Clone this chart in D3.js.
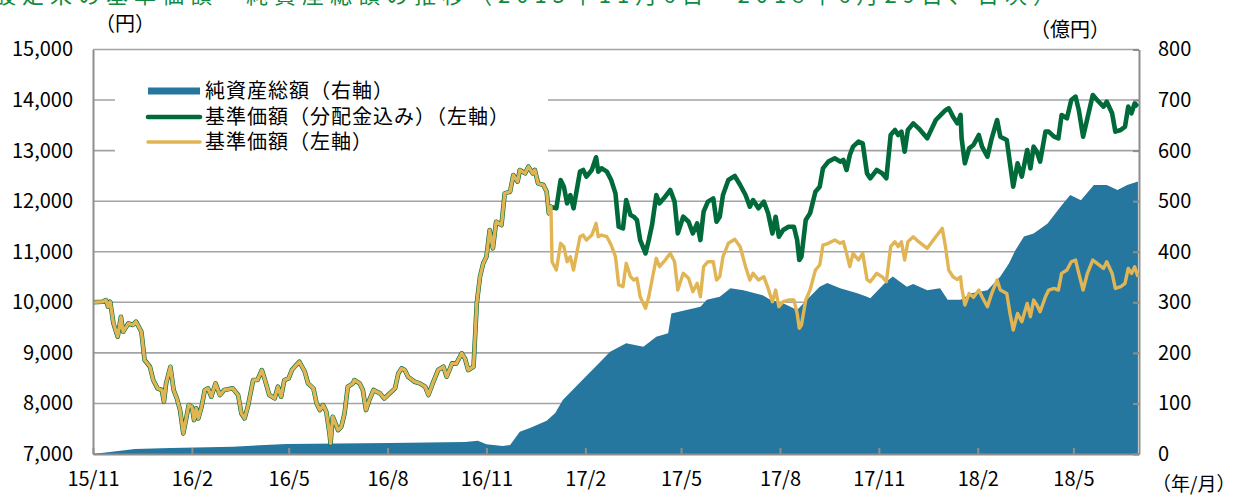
<!DOCTYPE html>
<html>
<head>
<meta charset="utf-8">
<script src="https://cdn.jsdelivr.net/npm/d3@7"></script>
<style>
  body { margin: 0; background: #fff; }
  text { font-family: "Noto Sans CJK JP", "Noto Sans", sans-serif; }
</style>
</head>
<body>
<svg id="fund-chart" width="1246" height="495"></svg>
<script>
// 基準価額: same for both lines until the first distribution
const sharedDates = [
  "2015-11-01","2015-11-10","2015-11-13","2015-11-15","2015-11-17","2015-11-20","2015-11-24","2015-11-27","2015-11-29",
  "2015-12-04","2015-12-08","2015-12-11","2015-12-16","2015-12-19","2015-12-24","2015-12-27","2015-12-31",
  "2016-01-04","2016-01-06","2016-01-08","2016-01-12","2016-01-15","2016-01-18","2016-01-21","2016-01-24","2016-01-27","2016-01-29",
  "2016-02-01","2016-02-03","2016-02-05","2016-02-07","2016-02-10","2016-02-13","2016-02-16","2016-02-19","2016-02-23","2016-02-27",
  "2016-03-02","2016-03-10","2016-03-15","2016-03-18","2016-03-21","2016-03-24","2016-03-29",
  "2016-04-02","2016-04-06","2016-04-09","2016-04-13","2016-04-18","2016-04-21","2016-04-24","2016-04-27",
  "2016-05-01","2016-05-04","2016-05-08","2016-05-11","2016-05-16","2016-05-19","2016-05-24","2016-05-27","2016-05-30",
  "2016-06-02","2016-06-05","2016-06-08","2016-06-09","2016-06-11","2016-06-16","2016-06-19","2016-06-22","2016-06-25","2016-06-30",
  "2016-07-01","2016-07-06","2016-07-09","2016-07-12","2016-07-15","2016-07-19","2016-07-25","2016-07-29",
  "2016-08-03","2016-08-08","2016-08-11","2016-08-14","2016-08-17","2016-08-20","2016-08-26","2016-08-31",
  "2016-09-05","2016-09-08","2016-09-12","2016-09-17","2016-09-22","2016-09-25","2016-09-30",
  "2016-10-04","2016-10-09","2016-10-12","2016-10-15","2016-10-20","2016-10-23","2016-10-26","2016-10-29",
  "2016-11-01","2016-11-04","2016-11-07","2016-11-10","2016-11-15","2016-11-18","2016-11-23","2016-11-26","2016-11-30",
  "2016-12-02","2016-12-07","2016-12-10","2016-12-14","2016-12-16","2016-12-19","2016-12-24","2016-12-27","2016-12-29","2016-12-31"
];
const sharedNav = [
  10000,10011,10045,9913,10011,9584,9319,9715,9418,
  9584,9551,9617,9418,8858,8726,8463,8299,
  8266,8034,8397,8726,8266,8100,7869,7408,7737,7968,
  7935,7671,7903,7704,7935,8266,8299,8133,8397,8166,
  8266,8299,8166,7803,7704,7935,8463,
  8463,8660,8463,8166,8100,8331,8133,8463,
  8496,8660,8759,8825,8627,8397,8299,8001,7869,
  7968,7836,7408,7210,7737,7474,7540,7803,8331,8397,
  8463,8397,8266,7869,8067,8266,8199,8100,
  8199,8299,8594,8693,8660,8528,8430,8397,
  8331,8166,8397,8660,8726,8528,8792,
  8792,8990,8891,8660,8726,9980,10506,10771,
  10902,11430,11068,11594,11528,12155,12188,12518,12386,
  12617,12551,12683,12551,12617,12353,12320,12188,11760,11892
];

// after the first distribution the two lines separate
const laterDates = [
  "2017-01-01","2017-01-05","2017-01-09","2017-01-12","2017-01-15","2017-01-18","2017-01-21","2017-01-24","2017-01-27","2017-01-30",
  "2017-02-02","2017-02-07","2017-02-11","2017-02-13","2017-02-16","2017-02-21","2017-02-25",
  "2017-03-01","2017-03-04","2017-03-08","2017-03-11","2017-03-15","2017-03-18","2017-03-21","2017-03-24","2017-03-29",
  "2017-04-01","2017-04-04","2017-04-08","2017-04-11","2017-04-15","2017-04-21","2017-04-25","2017-04-28",
  "2017-05-03","2017-05-08","2017-05-12","2017-05-16","2017-05-19","2017-05-22","2017-05-26","2017-05-31",
  "2017-06-03","2017-06-06","2017-06-09","2017-06-14","2017-06-20","2017-06-25","2017-06-30",
  "2017-07-04","2017-07-07","2017-07-12","2017-07-17","2017-07-21","2017-07-25","2017-07-28","2017-07-31",
  "2017-08-04","2017-08-09","2017-08-14","2017-08-17","2017-08-19","2017-08-21","2017-08-25","2017-08-29",
  "2017-09-03","2017-09-07","2017-09-10","2017-09-15","2017-09-21","2017-09-26","2017-09-29",
  "2017-10-02","2017-10-05","2017-10-08","2017-10-13","2017-10-17","2017-10-21","2017-10-24","2017-10-30",
  "2017-11-04","2017-11-08","2017-11-12","2017-11-16","2017-11-19","2017-11-22","2017-11-25","2017-11-28",
  "2017-12-03","2017-12-08","2017-12-16","2017-12-24","2017-12-30",
  "2018-01-02","2018-01-05","2018-01-09","2018-01-13","2018-01-16","2018-01-17","2018-01-20","2018-01-24","2018-01-28",
  "2018-02-02","2018-02-05","2018-02-10","2018-02-14","2018-02-19","2018-02-22","2018-02-28",
  "2018-03-03","2018-03-06","2018-03-10","2018-03-14","2018-03-19","2018-03-22","2018-03-25","2018-03-28","2018-03-31",
  "2018-04-05","2018-04-08","2018-04-13","2018-04-17","2018-04-20","2018-04-25","2018-04-29",
  "2018-05-03","2018-05-06","2018-05-10","2018-05-14","2018-05-19","2018-05-23","2018-05-29",
  "2018-06-01","2018-06-06","2018-06-09","2018-06-14","2018-06-18","2018-06-21","2018-06-24","2018-06-27","2018-06-30"
];
const laterNav = [
  10803,10639,11167,11100,10803,10902,10639,10968,11297,11330,
  11231,11330,11562,11297,11330,11297,11133,
  10902,10342,10309,10771,10507,10441,10474,10111,9881,
  10111,10441,10870,10705,10803,10968,10803,10243,
  10573,10474,10210,10375,10111,10705,10803,10803,
  10441,10507,10902,11167,11246,11100,10705,
  10441,10573,10441,10507,10276,10012,10243,9913,
  10012,10045,10045,9782,9485,9551,10045,10243,
  10639,10738,11133,11167,11232,11167,11200,
  10968,10705,10968,10837,10968,10450,10407,10572,
  10506,10407,11100,11199,11100,11199,10836,11199,
  11298,11199,11067,11298,11463,
  11100,10638,10506,10450,10506,10300,9946,10176,10100,
  10242,10110,9913,10176,10440,10242,10176,
  9781,9452,9781,9616,9979,9715,10044,9946,9814,
  10110,10242,10275,10242,10572,10638,10803,
  10836,10572,10242,10572,10836,10770,10671,
  10803,10572,10275,10308,10374,10671,10572,10704,10506
];
const laterNavWithDiv = [
  11880,11859,12419,12287,11958,12122,11859,12221,12584,12617,
  12485,12617,12868,12584,12650,12584,12419,
  12155,11495,11462,12023,11726,11693,11627,11231,10969,
  11231,11528,12122,11958,12056,12221,11991,11363,
  11693,11594,11363,11561,11231,11792,11991,12056,
  11594,11693,12122,12419,12498,12320,12122,
  11892,12023,11859,11991,11760,11363,11693,11297,
  11429,11495,11495,11231,10837,10902,11627,11760,
  12188,12287,12650,12782,12848,12782,12815,
  12617,12914,13078,13177,13144,12550,12452,12617,
  12551,12452,13309,13408,13309,13375,12979,13408,
  13540,13441,13243,13606,13738,
  13800,13837,13672,13540,13705,13243,12749,13045,13111,
  13309,13078,12881,13243,13606,13276,13210,
  12749,12287,12749,12485,13012,12650,13078,12979,12782,
  13375,13375,13276,13243,13705,13639,14001,
  14067,13804,13276,13639,14100,14001,13870,
  13969,13738,13375,13408,13474,13870,13738,13936,13870
];

// 純資産総額 (億円)
const assetDates = [
  "2015-11-01","2015-12-10","2016-01-12","2016-03-10","2016-04-29","2016-08-02","2016-10-12","2016-10-24",
  "2016-11-01","2016-11-16","2016-11-23","2016-12-02","2016-12-12","2016-12-27","2017-01-04","2017-01-11",
  "2017-01-29","2017-02-12","2017-02-24","2017-03-11","2017-03-27","2017-04-08","2017-04-19","2017-04-22",
  "2017-05-06","2017-05-19","2017-05-25","2017-06-06","2017-06-16","2017-06-28","2017-07-16","2017-07-23",
  "2017-08-04","2017-08-17","2017-08-26","2017-09-07","2017-09-14","2017-09-26","2017-10-12","2017-10-21",
  "2017-10-24","2017-11-08","2017-11-14","2017-11-27","2017-12-03","2017-12-16","2017-12-28","2018-01-04",
  "2018-01-16","2018-01-26","2018-02-10","2018-02-22","2018-03-02","2018-03-08","2018-03-16","2018-03-25",
  "2018-04-07","2018-04-19","2018-04-28","2018-05-08","2018-05-20","2018-06-01","2018-06-11","2018-06-20","2018-06-30"
];
const assetValues = [
  0,10,12,14.5,20,22,23.7,26,
  19.5,16,18,44,52,66,81,107,
  146,176,202,219,212,232,239,278,
  285,291,305,311,328,324,314,305,
  298,285,305,331,338,328,318,311,
  308,341,351,331,336,324,328,305,
  305,318,324,351,377,403,430,436,
  456,489,512,502,532,532,522,532,539
];

const leftTicks = [7000, 8000, 9000, 10000, 11000, 12000, 13000, 14000, 15000];
const rightTicks = [0, 100, 200, 300, 400, 500, 600, 700, 800];
const xTickDates = ["2015-11-01","2016-02-01","2016-05-01","2016-08-01","2016-11-01","2017-02-01",
  "2017-05-01","2017-08-01","2017-11-01","2018-02-01","2018-05-01"];
const xTickLabels = ["15/11","16/2","16/5","16/8","16/11","17/2","17/5","17/8","17/11","18/2","18/5"];

const legendLabels = ["純資産総額（右軸）", "基準価額（分配金込み）（左軸）", "基準価額（左軸）"];

const colors = { asset: "#26779f", withDiv: "#006a3a", nav: "#e1b554", grid: "#a3a3a3", axis: "#8e8e8e" };

const margin = { top: 49.5, right: 107, bottom: 41, left: 93 };
const svg = d3.select("#fund-chart");
const width = +svg.attr("width") - margin.left - margin.right;
const height = +svg.attr("height") - margin.top - margin.bottom;
const parseDate = d3.timeParse("%Y-%m-%d");

const xScale = d3.scaleTime()
  .domain([parseDate("2015-11-01"), parseDate("2018-07-01")])
  .range([0, width]);
const yLeft = d3.scaleLinear().domain([7000, 15000]).range([height, 0]);
const yRight = d3.scaleLinear().domain([0, 800]).range([height, 0]);

const navSeries = sharedDates.map((d, i) => ({ date: parseDate(d), value: sharedNav[i] }))
  .concat(laterDates.map((d, i) => ({ date: parseDate(d), value: laterNav[i] })));
const withDivSeries = sharedDates.map((d, i) => ({ date: parseDate(d), value: sharedNav[i] }))
  .concat(laterDates.map((d, i) => ({ date: parseDate(d), value: laterNavWithDiv[i] })));
const assetSeries = assetDates.map((d, i) => ({ date: parseDate(d), value: assetValues[i] }));

// title, mostly cut off by the top edge
svg.append("text")
  .attr("x", -6)
  .attr("y", 3)
  .attr("font-size", 22)
  .attr("letter-spacing", 6)
  .attr("fill", "#108a40")
  .text("設定来の基準価額・純資産総額の推移（2015年11月6日～2018年6月29日、日次）");

svg.append("text").attr("x", 95).attr("y", 31).attr("font-size", 20).text("（円）");
svg.append("text").attr("x", 1030).attr("y", 37).attr("font-size", 20).text("（億円）");
svg.append("text").attr("x", 1152).attr("y", 491).attr("font-size", 19).text("（年/月）");

const g = svg.append("g").attr("transform", `translate(${margin.left},${margin.top})`);

// gridlines
g.append("g")
  .selectAll("line")
  .data(leftTicks)
  .join("line")
  .attr("x1", 0)
  .attr("x2", width)
  .attr("y1", (d) => yLeft(d))
  .attr("y2", (d) => yLeft(d))
  .attr("stroke", colors.grid)
  .attr("stroke-width", 1.6);

// legend background hides the gridlines behind it
g.append("rect")
  .attr("x", 115 - margin.left)
  .attr("y", 66 - margin.top)
  .attr("width", 548 - 115)
  .attr("height", 96)
  .attr("fill", "#fff");

const area = d3.area()
  .x((d) => xScale(d.date))
  .y0(height)
  .y1((d) => yRight(d.value));
g.append("path").datum(assetSeries).attr("d", area).attr("fill", colors.asset);

const line = d3.line()
  .x((d) => xScale(d.date))
  .y((d) => yLeft(d.value));

g.append("path").datum(withDivSeries).attr("d", line)
  .attr("fill", "none").attr("stroke", colors.withDiv).attr("stroke-width", 4.6)
  .attr("stroke-linejoin", "round");
g.append("path").datum(navSeries).attr("d", line)
  .attr("fill", "none").attr("stroke", colors.nav).attr("stroke-width", 3.4)
  .attr("stroke-linejoin", "round");

// axes
function styleAxis(sel) {
  sel.select(".domain").attr("stroke", colors.axis).attr("stroke-width", 2);
  sel.selectAll(".tick line").attr("stroke", colors.axis).attr("stroke-width", 2);
  sel.selectAll("text").attr("font-size", 20).attr("fill", "#000")
    .style("font-family", '"Noto Sans CJK JP", sans-serif');
}

g.append("g")
  .call(d3.axisLeft(yLeft).tickValues(leftTicks).tickSize(0).tickPadding(20).tickFormat(d3.format(",")))
  .call(styleAxis);

g.append("g")
  .attr("transform", `translate(${width},0)`)
  .call(d3.axisRight(yRight).tickValues(rightTicks).tickSizeInner(-6).tickSizeOuter(0).tickPadding(19))
  .call(styleAxis);

g.append("g")
  .attr("transform", `translate(0,${height})`)
  .call(d3.axisBottom(xScale)
    .tickValues(xTickDates.map(parseDate))
    .tickFormat((d, i) => xTickLabels[i])
    .tickSizeInner(-6).tickSizeOuter(0).tickPadding(18))
  .call(styleAxis);

// legend
const legend = svg.append("g").attr("transform", "translate(148,0)");
const legendRows = [91, 117, 142];
legend.append("rect").attr("x", 0).attr("y", legendRows[0] - 3.5).attr("width", 52).attr("height", 7)
  .attr("fill", colors.asset);
legend.append("line").attr("x1", 0).attr("x2", 52).attr("y1", legendRows[1]).attr("y2", legendRows[1])
  .attr("stroke", colors.withDiv).attr("stroke-width", 4.6).attr("stroke-linecap", "round");
legend.append("line").attr("x1", 0).attr("x2", 52).attr("y1", legendRows[2]).attr("y2", legendRows[2])
  .attr("stroke", colors.nav).attr("stroke-width", 3.4).attr("stroke-linecap", "round");
legend.selectAll(".legend-label")
  .data(legendLabels)
  .join("text")
  .attr("class", "legend-label")
  .attr("x", 57)
  .attr("y", (d, i) => legendRows[i])
  .attr("dy", "0.36em")
  .attr("font-size", 20)
  .attr("letter-spacing", 1)
  .text((d) => d);
</script>
</body>
</html>
